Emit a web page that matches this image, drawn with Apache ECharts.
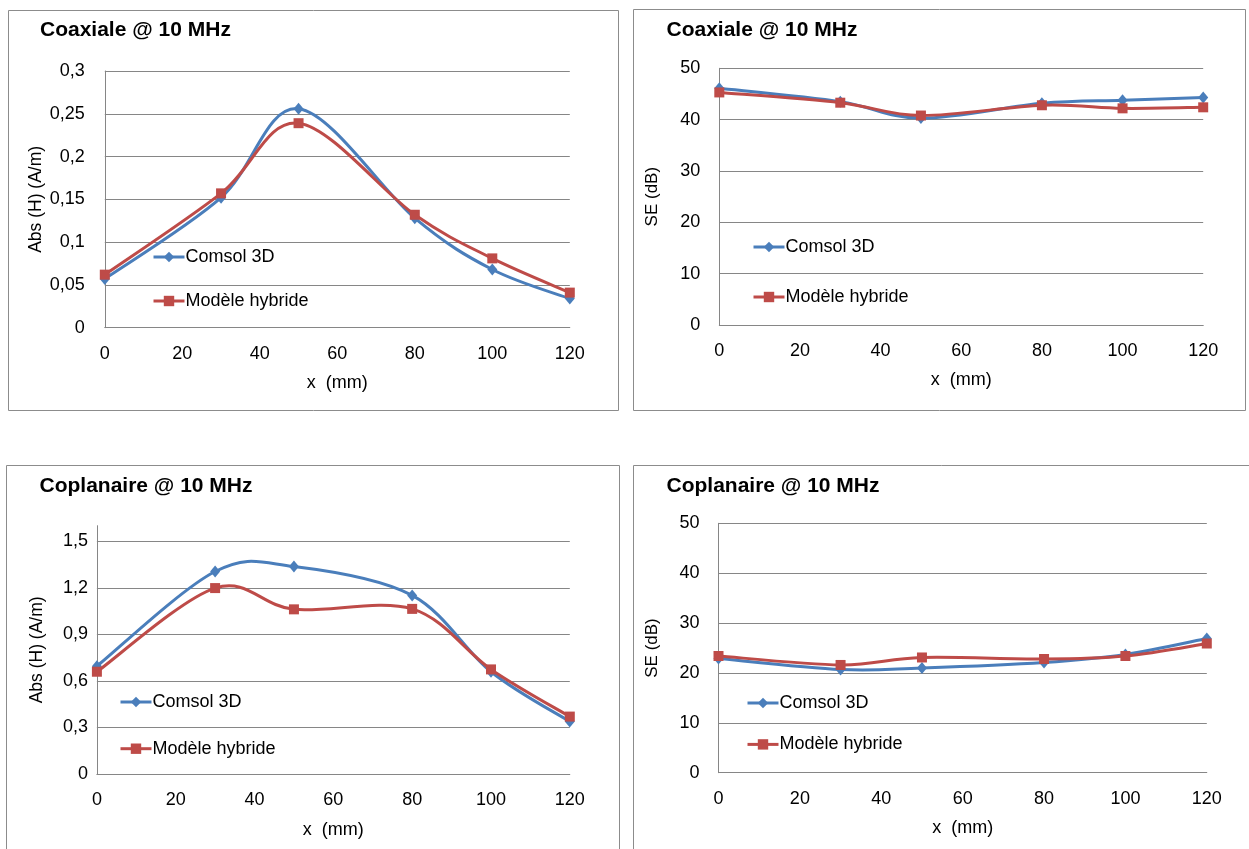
<!DOCTYPE html>
<html>
<head>
<meta charset="utf-8">
<script src="https://cdn.jsdelivr.net/npm/echarts@6/dist/echarts.min.js"></script>
<style>html,body{margin:0;padding:0;background:#fff}#c{width:1249px;height:849px}</style>
</head>
<body>
<div id="c"></div>
<script>
// ---- data ----
const xPos = [0, 30, 50, 80, 100, 120];
const seriesNames = ['Comsol 3D', 'Modèle hybride'];
const titles = ['Coaxiale @ 10 MHz', 'Coaxiale @ 10 MHz', 'Coplanaire @ 10 MHz', 'Coplanaire @ 10 MHz'];
const yNames = ['Abs (H) (A/m)', 'SE (dB)', 'Abs (H) (A/m)', 'SE (dB)'];
const xName = 'x  (mm)';
const coaxH_comsol = [0.057, 0.152, 0.256, 0.128, 0.068, 0.034];
const coaxH_hybrid = [0.062, 0.157, 0.239, 0.132, 0.081, 0.041];
const coaxSE_comsol = [46.1, 43.5, 40.3, 43.2, 43.8, 44.3];
const coaxSE_hybrid = [45.3, 43.3, 40.8, 42.8, 42.2, 42.4];
const copH_comsol = [0.695, 1.305, 1.337, 1.151, 0.659, 0.338];
const copH_hybrid = [0.659, 1.198, 1.061, 1.064, 0.674, 0.370];
const copSE_comsol = [22.9, 20.7, 21.0, 22.1, 23.7, 26.9];
const copSE_hybrid = [23.4, 21.6, 23.1, 22.8, 23.4, 25.9];
// axis ranges [min, max, interval]
const xRange = [0, 120, 20];
const yRanges = [[0, 0.3, 0.05], [0, 50, 10], [0, 1.6, 0.3], [0, 50, 10]];

// ---- layout ----
const FONT = 'Liberation Sans';
const GRAY = '#868686';
const COLORS = ['#4A7EBB', '#BE4B48'];
const grids = [
  {left: 104.8, top: 71, width: 465, height: 256.7},
  {left: 719.3, top: 68.3, width: 483.9, height: 256.7},
  {left: 96.9, top: 525.7, width: 472.9, height: 248.3},
  {left: 718.5, top: 523.3, width: 488.3, height: 249.4}
];
const titlePos = [[40, 18], [666.5, 18], [39.5, 474.5], [666.5, 474.5]];
const yNameGap = [60, 58, 51, 58];
const yLabelMargin = [20, 19, 9, 19];
const legendPos = [[152, 247, 24], [752, 237, 30], [119, 692, 26.7], [746, 693, 21.4]];
const frames = [[8.5, 10.5, 610, 400], [633.5, 9.5, 612, 401], [6.5, 465.5, 613, 400], [633.5, 465.5, 620, 400]];
const data = [
  [coaxH_comsol, coaxH_hybrid],
  [coaxSE_comsol, coaxSE_hybrid],
  [copH_comsol, copH_hybrid],
  [copSE_comsol, copSE_hybrid]
];

function fmt(v) {
  return String(+v.toFixed(3)).replace('.', ',');
}

// Excel-like smoothed line: Catmull-Rom segments through the data points, mapped by the axes
function makeSplineRenderer(color) {
  return function (params, api) {
    const n = params.dataInsideLength;
    const i = params.dataIndexInside;
    if (i >= n - 1) return null;
    const P = k => {
      const kk = Math.max(0, Math.min(n - 1, k));
      return api.coord([api.value(0, kk), api.value(1, kk)]);
    };
    const p0 = P(i - 1), p1 = P(i), p2 = P(i + 1), p3 = P(i + 2);
    return {
      type: 'bezierCurve',
      shape: {
        x1: p1[0], y1: p1[1], x2: p2[0], y2: p2[1],
        cpx1: p1[0] + (p2[0] - p0[0]) / 6, cpy1: p1[1] + (p2[1] - p0[1]) / 6,
        cpx2: p2[0] - (p3[0] - p1[0]) / 6, cpy2: p2[1] - (p3[1] - p1[1]) / 6
      },
      style: {stroke: color, lineWidth: 3, fill: null, lineCap: 'round', lineJoin: 'round'},
      silent: true
    };
  };
}

const option = {
  backgroundColor: '#fff',
  animation: false,
  textStyle: {fontFamily: FONT},
  title: titles.map((t, i) => ({
    text: t, left: titlePos[i][0], top: titlePos[i][1], padding: 0,
    textStyle: {fontFamily: FONT, fontWeight: 'bold', fontSize: 21, color: '#000', lineHeight: 24}
  })),
  grid: grids.map(g => Object.assign({containLabel: false}, g)),
  legend: legendPos.map((p, i) => ({
    data: seriesNames.map((nm, k) => ({
      name: nm,
      lineStyle: {color: COLORS[k], width: 3, opacity: 1},
      itemStyle: {color: COLORS[k], opacity: 1}
    })),
    orient: 'vertical', left: p[0], top: p[1], itemGap: p[2],
    itemWidth: 31, itemHeight: 13, padding: 0,
    textStyle: {fontFamily: FONT, fontSize: 18, color: '#000', lineHeight: 20, padding: [0, 0, 0, -4]},
    selectedMode: false
  })),
  xAxis: grids.map((g, i) => ({
    type: 'value', gridIndex: i, min: xRange[0], max: xRange[1], interval: xRange[2],
    name: xName, nameLocation: 'middle', nameGap: i === 2 ? 47 : 46,
    nameTextStyle: {fontFamily: FONT, fontSize: 18, color: '#000'},
    axisLine: {show: true, lineStyle: {color: GRAY, width: 1}},
    axisTick: {show: false},
    splitLine: {show: false},
    axisLabel: {fontFamily: FONT, fontSize: 18, color: '#000', margin: 17}
  })),
  yAxis: yRanges.map((r, i) => ({
    type: 'value', gridIndex: i, min: r[0], max: r[1], interval: r[2],
    name: yNames[i], nameLocation: 'middle', nameGap: yNameGap[i], nameRotate: 90,
    nameTextStyle: {fontFamily: FONT, fontSize: i % 2 ? 17 : 17.5, color: '#000'},
    axisLine: {show: true, lineStyle: {color: GRAY, width: 1}},
    axisTick: {show: false},
    splitLine: {show: true, showMaxLine: i !== 2, lineStyle: {color: GRAY, width: 1}},
    axisLabel: {fontFamily: FONT, fontSize: 18, color: '#000', margin: yLabelMargin[i],
      showMaxLabel: i !== 2, formatter: fmt}
  })),
  series: [],
  graphic: frames.map(f => ({
    type: 'rect', shape: {x: f[0], y: f[1], width: f[2], height: f[3]},
    style: {fill: 'none', stroke: '#8c8c8c', lineWidth: 1}, silent: true, z: -1
  }))
};

data.forEach((pair, i) => {
  pair.forEach((vals, k) => {
    const pts = xPos.map((x, j) => [x, vals[j]]);
    option.series.push({
      name: seriesNames[k] + ' (courbe)', type: 'custom', coordinateSystem: 'cartesian2d',
      xAxisIndex: i, yAxisIndex: i, data: pts, clip: false,
      renderItem: makeSplineRenderer(COLORS[k]),
      z: 2 + 2 * k
    });
    option.series.push({
      name: seriesNames[k], type: 'line', xAxisIndex: i, yAxisIndex: i,
      data: pts,
      symbol: k === 0 ? 'diamond' : 'rect',
      symbolSize: k === 0 ? [10, 12] : 10,
      showAllSymbol: true,
      lineStyle: {color: COLORS[k], width: 0, opacity: 0},
      itemStyle: {color: COLORS[k], borderWidth: 0},
      z: 3 + 2 * k
    });
  });
});

const chart = echarts.init(document.getElementById('c'), null, {renderer: 'canvas'});
chart.setOption(option);
</script>
</body>
</html>
